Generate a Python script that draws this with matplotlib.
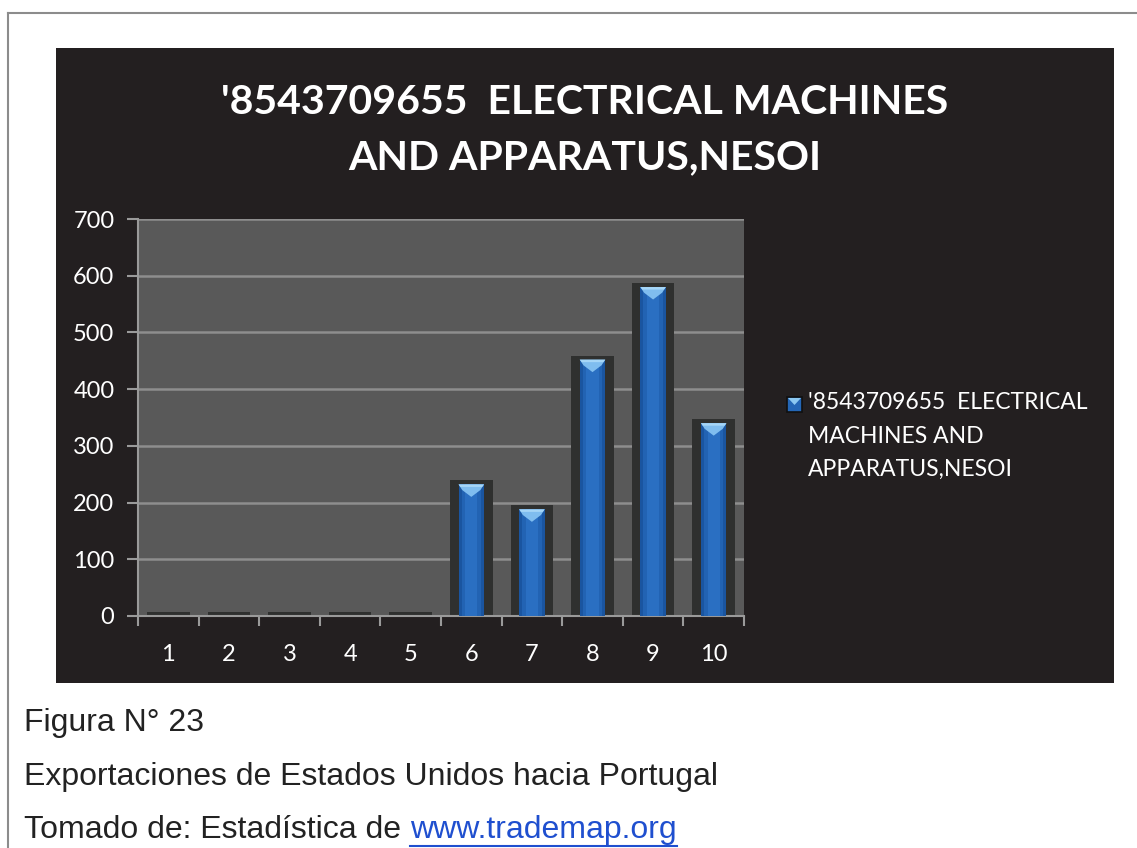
import matplotlib
matplotlib.use("Agg")
import matplotlib.pyplot as plt
from matplotlib.patches import Rectangle, Polygon
from matplotlib.lines import Line2D
import numpy as np

categories = ["1", "2", "3", "4", "5", "6", "7", "8", "9", "10"]
values = [0, 0, 0, 0, 0, 232, 188, 452, 580, 340]
yticks = [0, 100, 200, 300, 400, 500, 600, 700]
title = "'8543709655  ELECTRICAL MACHINES\nAND APPARATUS,NESOI"
legend_label = "'8543709655  ELECTRICAL\nMACHINES AND\nAPPARATUS,NESOI"
caption1 = "Figura N° 23"
caption2 = "Exportaciones de Estados Unidos hacia Portugal"
caption3 = "Tomado de: Estadística de "
link = "www.trademap.org"

W, H = 1137, 848
fig = plt.figure(figsize=(W / 100, H / 100), dpi=100)
fig.patch.set_facecolor("white")

def fx(px):
    return px / W

def fy(py):
    return 1 - py / H

# page border (left and top)
fig.add_artist(Line2D([fx(8), fx(8)], [fy(13), 0], color="#8c8c8c", lw=1.5))
fig.add_artist(Line2D([fx(8), 1], [fy(13), fy(13)], color="#8c8c8c", lw=1.5))

# chart background
fig.add_artist(Rectangle((fx(56), fy(683)), fx(1114) - fx(56), fy(48) - fy(683),
                         transform=fig.transFigure, facecolor="#231f20",
                         edgecolor="none", zorder=0))

font = "Lato"
fig.text(fx(585), fy(130), title, ha="center", va="center", color="white",
         fontsize=29.5, fontweight="bold", family=font, linespacing=1.62)

ax = fig.add_axes([fx(138), fy(616), fx(744) - fx(138), fy(219) - fy(616)])
ax.set_facecolor("#595959")
x = np.arange(len(categories))
ax.set_xlim(-0.5, len(categories) - 0.5)
ax.set_ylim(0, 700)
ax.set_yticks(yticks)
ax.set_xticks(x)
ax.set_xticklabels(categories)
ax.set_xticks(np.arange(-0.5, len(categories)), minor=True)
ax.tick_params(axis="x", which="major", length=0, pad=20, labelsize=17,
               labelcolor="white")
ax.tick_params(axis="x", which="minor", length=7, width=1.5, color="#9a9a9a",
               direction="out")
ax.tick_params(axis="y", length=8, width=1.5, color="#9a9a9a", labelsize=17,
               labelcolor="white", pad=9)
for lab in ax.get_xticklabels() + ax.get_yticklabels():
    lab.set_family(font)
ax.grid(axis="y", color="#8e8e8e", lw=1.8)
ax.set_axisbelow(True)
for s in ["top", "right"]:
    ax.spines[s].set_visible(False)
ax.spines["left"].set_color("#9a9a9a")
ax.spines["bottom"].set_color("#9a9a9a")
ax.spines["left"].set_linewidth(1.5)
ax.spines["bottom"].set_linewidth(1.5)

vals = np.array(values, dtype=float)
# shadow
ax.bar(x, vals + 7, width=0.7, color="#2f302f", zorder=2)
# blue bar with faux gradient
bw = 0.42
ax.bar(x, vals, width=bw, color="#1a55a0", zorder=3)
ax.bar(x, vals, width=0.32, color="#2263b3", zorder=3)
ax.bar(x, vals, width=0.2, color="#2a6fc2", zorder=3)
# top caps
cap = 22
for xi, v in zip(x, vals):
    if v > cap:
        ax.add_patch(Polygon([[xi - bw / 2, v], [xi + bw / 2, v],
                              [xi + bw / 2 - 0.06, v - cap * 0.45],
                              [xi, v - cap], [xi - bw / 2 + 0.06, v - cap * 0.45]],
                             closed=True, facecolor="#7fbdef", edgecolor="none",
                             zorder=4))
        ax.add_patch(Polygon([[xi - bw / 2, v], [xi + bw / 2, v],
                              [xi + bw / 2 - 0.03, v - cap * 0.2],
                              [xi - bw / 2 + 0.03, v - cap * 0.2]],
                             closed=True, facecolor="#a6d6f7", edgecolor="none",
                             zorder=4))

# legend
fig.add_artist(Rectangle((fx(787), fy(412)), fx(802) - fx(787), fy(397) - fy(412),
                         transform=fig.transFigure, facecolor="#2466b6",
                         edgecolor="#101010", lw=1.2, zorder=5))
fig.add_artist(Polygon([[fx(788), fy(398)], [fx(801), fy(398)], [fx(794.5), fy(405)]],
                       closed=True, transform=fig.transFigure,
                       facecolor="#8cc8f2", edgecolor="none", zorder=6))
fig.text(fx(808), fy(436), legend_label, ha="left", va="center", color="white",
         fontsize=16.5, family=font, linespacing=1.72)

# captions
cap_font = "Liberation Sans"
cs = 23
fig.text(fx(24), fy(723), caption1, ha="left", va="center", color="#222222",
         fontsize=cs, family=cap_font)
fig.text(fx(24), fy(777), caption2, ha="left", va="center", color="#222222",
         fontsize=cs, family=cap_font)
t3 = fig.text(fx(24), fy(830), caption3, ha="left", va="center", color="#222222",
              fontsize=cs, family=cap_font)
fig.canvas.draw()
bb = t3.get_window_extent()
lx = bb.x1 / (W)
t4 = fig.text(lx, fy(830), link, ha="left", va="center", color="#1f4fcf",
              fontsize=cs, family=cap_font)
fig.canvas.draw()
bb4 = t4.get_window_extent()
fig.add_artist(Line2D([bb4.x0 / W, bb4.x1 / W], [fy(846), fy(846)],
                      color="#1f4fcf", lw=1.5))

fig.savefig("out.png", dpi=100, facecolor="white")
